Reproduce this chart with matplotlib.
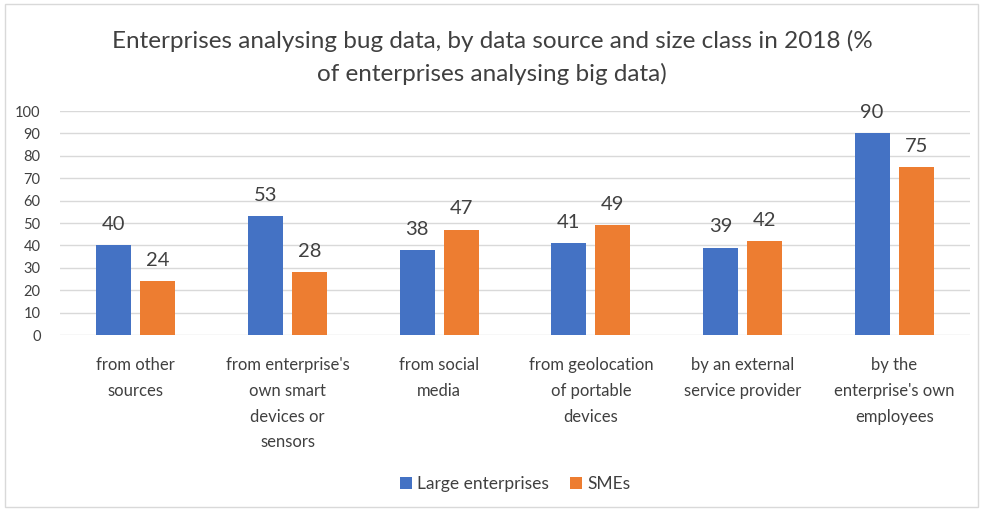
import matplotlib
matplotlib.use('Agg')
import matplotlib.pyplot as plt
import matplotlib.patches as mpatches
import numpy as np

categories = ['from other\nsources', "from enterprise's\nown smart\ndevices or\nsensors",
              'from social\nmedia', 'from geolocation\nof portable\ndevices',
              'by an external\nservice provider', "by the\nenterprise's own\nemployees"]
large = [40, 53, 38, 41, 39, 90]
smes = [24, 28, 47, 49, 42, 75]
yticks = [0, 10, 20, 30, 40, 50, 60, 70, 80, 90, 100]

blue = '#4472C4'
orange = '#ED7D31'
txt = '#404040'

plt.rcParams['font.family'] = ['Lato', 'DejaVu Sans']

fig = plt.figure(figsize=[9.84, 5.11], dpi=100)
ax = fig.add_axes([60/984, 1-335/511, 910/984, 224/511])

x = np.arange(len(categories))
w = 0.23
gap = 0.06
b1 = ax.bar(x - (w+gap)/2, large, w, color=blue, label='Large enterprises', zorder=3)
b2 = ax.bar(x + (w+gap)/2, smes, w, color=orange, label='SMEs', zorder=3)

for bars in (b1, b2):
    for b in bars:
        ax.text(b.get_x()+b.get_width()/2, b.get_height()+5.5, str(int(b.get_height())),
                ha='center', va='bottom', fontsize=14.5, color=txt)

ax.set_ylim(0, 100)
ax.set_xlim(-0.5, len(categories)-0.5)
ax.set_yticks(yticks)
ax.set_xticks(x)
ax.set_xticklabels(categories, fontsize=12, color=txt, va='top', linespacing=1.75)
ax.tick_params(axis='y', labelsize=10.5, colors=txt, length=0, pad=14)
ax.tick_params(axis='x', length=0, pad=16)
ax.grid(axis='y', color='#D9D9D9', linewidth=1, zorder=0)
for s in ax.spines.values():
    s.set_visible(False)

fig.text(0.5, 1-57/511, 'Enterprises analysing bug data, by data source and size class in 2018 (%\nof enterprises analysing big data)',
         ha='center', va='center', fontsize=17.5, color=txt, linespacing=1.6)

ax.legend(loc='center', bbox_to_anchor=(0.5, (335-484)/224), ncol=2, frameon=False,
          fontsize=12.5, handlelength=0.7, handleheight=0.7, handletextpad=0.3,
          columnspacing=1.2, labelcolor=txt)

fig.patches.append(mpatches.Rectangle((5/984, 4/511), 973/984, 503/511, transform=fig.transFigure,
                                      fill=False, edgecolor='#D9D9D9', linewidth=1))

fig.savefig('out.png', dpi=100, facecolor='white')
